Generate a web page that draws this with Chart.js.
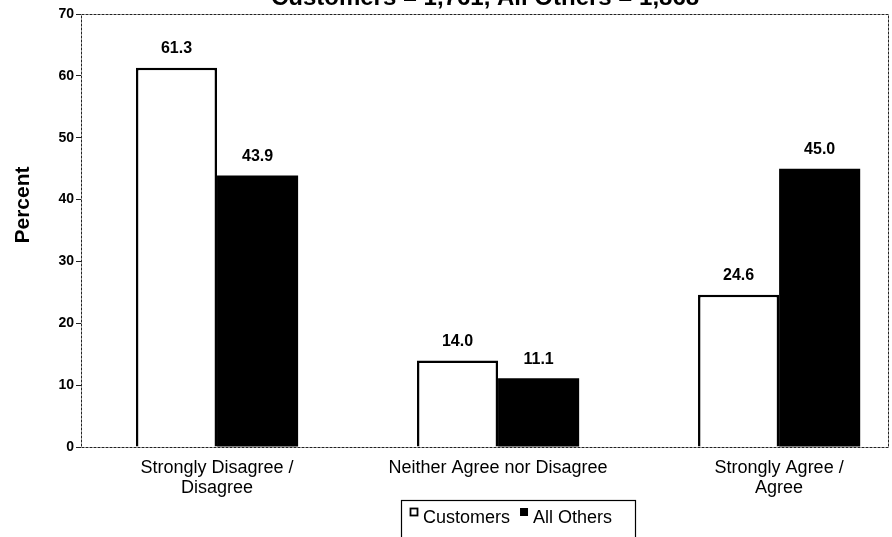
<!DOCTYPE html>
<html>
<head>
<meta charset="utf-8">
<script src="https://cdn.jsdelivr.net/npm/chart.js@4.4.1/dist/chart.umd.min.js"></script>
<style>
  html, body { margin: 0; padding: 0; background: #fff; }
  #wrap { width: 892px; height: 537px; }
</style>
</head>
<body>
<div id="wrap"><canvas id="chart" width="892" height="537"></canvas></div>
<script>
// --- Data
const categories = [
  ['Strongly Disagree /', 'Disagree'],
  ['Neither Agree nor Disagree'],
  ['Strongly Agree /', 'Agree']
];
const customers = [61.3, 14.0, 24.6];
const allOthers = [43.9, 11.1, 45.0];
const seriesNames = ['Customers', 'All Others'];
const titleText = 'Customers = 1,761, All Others = 1,868';
const yTicks = [0, 10, 20, 30, 40, 50, 60, 70];

const FONT = '"Liberation Sans", Arial, sans-serif';

// points on a linear x scale so the categories sit where the original has them
const toPoints = arr => arr.map((v, i) => ({ x: i, y: v }));

// frame, title, y title, value labels, legend box
const extras = {
  id: 'extras',
  afterDraw(chart) {
    const c = chart.ctx;
    const a = chart.chartArea;
    c.save();

    // dotted frame
    c.strokeStyle = '#222';
    c.lineWidth = 1;
    c.setLineDash([3, 1]);
    c.strokeRect(a.left + 0.5, a.top + 0.5, a.right - a.left - 1, a.bottom - a.top);
    c.setLineDash([]);

    // title, cut off at the top as in the scan
    c.fillStyle = '#000';
    c.font = 'bold 24px ' + FONT;
    c.textAlign = 'center';
    c.textBaseline = 'alphabetic';
    c.fillText(titleText, (a.left + a.right) / 2, 5);

    // y axis title
    c.save();
    c.translate(23, 205);
    c.rotate(-Math.PI / 2);
    c.font = 'bold 21px ' + FONT;
    c.textBaseline = 'middle';
    c.fillText('Percent', 0, 0);
    c.restore();

    // value labels
    c.font = 'bold 16px ' + FONT;
    c.textBaseline = 'middle';
    chart.data.datasets.forEach((ds, di) => {
      chart.getDatasetMeta(di).data.forEach((bar, i) => {
        c.fillText(ds.data[i].y.toFixed(1), bar.x, bar.y - 19);
      });
    });

    // legend box
    const lx = 401, ly = 500, lw = 234;
    c.strokeStyle = '#000';
    c.lineWidth = 1.2;
    c.strokeRect(lx + 0.5, ly + 0.5, lw, 45);
    c.font = '18px ' + FONT;
    c.textAlign = 'left';
    let x = lx + 9;
    chart.data.datasets.forEach((ds, di) => {
      const sq = 7;
      if (di === 0) {
        c.lineWidth = 1.8;
        c.strokeRect(x + 0.5, 508.5, sq, sq);
      } else {
        c.fillStyle = '#000';
        c.fillRect(x, 508, sq + 1, sq + 1);
      }
      c.fillStyle = '#000';
      c.fillText(ds.label, x + sq + 6, 518);
      x += sq + 6 + c.measureText(ds.label).width + 10;
    });

    c.restore();
  }
};

new Chart(document.getElementById('chart'), {
  type: 'bar',
  data: {
    datasets: [
      {
        label: seriesNames[0],
        data: toPoints(customers),
        backgroundColor: '#fff',
        borderColor: '#000',
        borderWidth: 2.5,
        categoryPercentage: 0.577,
        barPercentage: 1
      },
      {
        label: seriesNames[1],
        data: toPoints(allOthers),
        backgroundColor: '#000',
        borderColor: '#000',
        borderWidth: 0,
        categoryPercentage: 0.577,
        barPercentage: 1
      }
    ]
  },
  options: {
    responsive: false,
    animation: false,
    layout: { padding: { left: 0, right: 3, top: 14, bottom: 0 } },
    plugins: {
      legend: { display: false },
      title: { display: false },
      tooltip: { enabled: false }
    },
    scales: {
      x: {
        type: 'linear',
        min: -0.484,
        max: 2.391,
        offset: false,
        grid: { display: false },
        border: { display: false },
        afterBuildTicks: s => { s.ticks = categories.map((_, i) => ({ value: i })); },
        afterFit: s => { s.height = 90; },
        ticks: {
          autoSkip: false,
          maxRotation: 0,
          padding: 3,
          color: '#000',
          font: { family: FONT, size: 18, lineHeight: 1.12 },
          callback: v => categories[v] || ''
        }
      },
      y: {
        min: 0,
        max: 70,
        afterBuildTicks: s => { s.ticks = yTicks.map(v => ({ value: v })); },
        afterFit: s => { s.width = 81; },
        grid: { drawOnChartArea: false, drawTicks: true, tickLength: 5, color: '#222' },
        border: { display: false },
        ticks: {
          padding: 2,
          color: '#000',
          font: { family: FONT, size: 14, weight: 'bold' }
        }
      }
    }
  },
  plugins: [extras]
});
</script>
</body>
</html>
